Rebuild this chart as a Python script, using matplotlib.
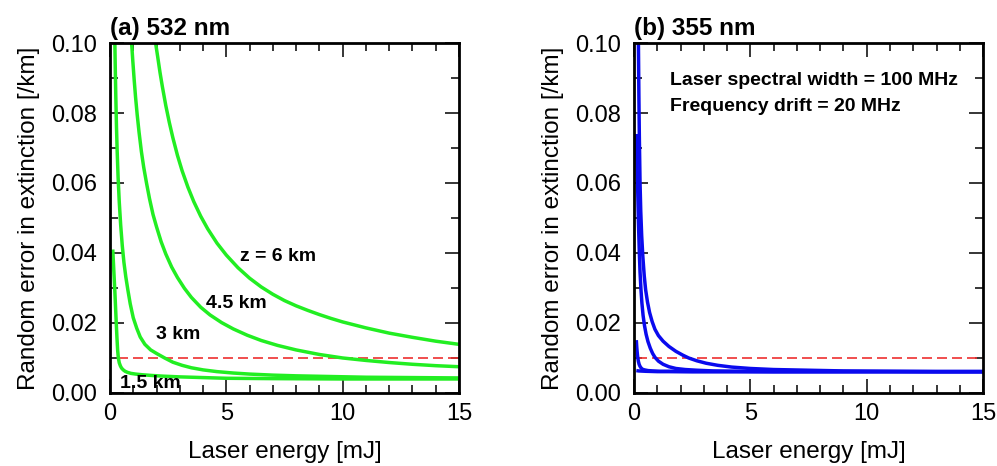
import matplotlib
matplotlib.use("Agg")
import matplotlib.pyplot as plt
from matplotlib.ticker import MultipleLocator

plt.rcParams['font.family'] = ['Liberation Sans', 'DejaVu Sans']

# 532 nm: random extinction error [/km] vs laser energy [mJ] for four altitudes
e_532_15km = [0.12, 0.15, 0.18, 0.21, 0.24, 0.27, 0.3, 0.33, 0.36, 0.4, 0.45, 0.5, 0.57,
              0.65, 0.75, 0.9, 1.1, 1.4, 1.8, 2.3, 3, 4, 5, 7, 10, 15]
err_532_15km = [0.041, 0.037, 0.033, 0.029, 0.0245, 0.020, 0.0158, 0.0122, 0.0100, 0.0086,
                0.0077, 0.0071, 0.0066, 0.0062, 0.0059, 0.0056, 0.0054, 0.0052, 0.0050,
                0.0048, 0.0046, 0.0044, 0.0042, 0.0041, 0.0040, 0.0040]

e_532_3km = [0.21, 0.23, 0.25, 0.28, 0.31, 0.35, 0.4, 0.46, 0.53, 0.6, 0.68, 0.77, 0.87,
             1.0, 1.15, 1.3, 1.5, 1.75, 2.0, 2.35, 2.7, 3.1, 3.5, 4.0, 4.6, 5.3, 6.0, 7.0,
             8.0, 9.5, 11, 13, 15]
err_532_3km = [0.100, 0.092, 0.085, 0.076, 0.069, 0.0615, 0.0545, 0.0480, 0.0420, 0.0373,
               0.0332, 0.0294, 0.0255, 0.0215, 0.0185, 0.0160, 0.0139, 0.0123, 0.0113,
               0.0100, 0.0088, 0.0079, 0.0072, 0.0066, 0.0061, 0.0057, 0.0054, 0.0051,
               0.0049, 0.0047, 0.0045, 0.0044, 0.0043]

e_532_45km = [0.93, 0.98, 1.04, 1.1, 1.17, 1.25, 1.35, 1.45, 1.57, 1.7, 1.85, 2.0, 2.2,
              2.4, 2.65, 2.9, 3.2, 3.5, 3.9, 4.3, 4.8, 5.3, 5.9, 6.5, 7.2, 8.0, 9.0, 10,
              11, 12, 13, 14, 15]
err_532_45km = [0.100, 0.095, 0.0895, 0.0845, 0.0795, 0.0745, 0.069, 0.0645, 0.060, 0.0555,
                0.051, 0.0475, 0.0432, 0.0397, 0.0360, 0.0330, 0.0299, 0.0273, 0.0245,
                0.0223, 0.0201, 0.0183, 0.0165, 0.0150, 0.0136, 0.0123, 0.0110, 0.0100,
                0.0093, 0.0087, 0.0082, 0.0078, 0.0075]

e_532_6km = [1.96, 2.05, 2.15, 2.25, 2.4, 2.55, 2.7, 2.9, 3.1, 3.35, 3.6, 3.9, 4.2, 4.6,
             5.0, 5.5, 6.0, 6.5, 7.0, 7.5, 8.0, 8.5, 9.0, 9.5, 10, 11, 12, 13, 14, 15]
err_532_6km = [0.100, 0.0961, 0.0916, 0.0876, 0.0821, 0.0773, 0.0730, 0.0679, 0.0635,
               0.0588, 0.0547, 0.0505, 0.0469, 0.0428, 0.0394, 0.0358, 0.0328, 0.0303,
               0.0282, 0.0264, 0.0249, 0.0236, 0.0224, 0.0213, 0.0203, 0.0186, 0.0171,
               0.0159, 0.0148, 0.0139]

# 355 nm, same altitudes
e_355_15km = [0.1, 0.2, 0.5, 1, 2, 5, 10, 15]
err_355_15km = [0.0064, 0.0063, 0.0062, 0.0061, 0.0061, 0.0061, 0.0061, 0.0061]

e_355_3km = [0.1, 0.11, 0.12, 0.135, 0.15, 0.17, 0.19, 0.22, 0.26, 0.3, 0.36, 0.45, 0.6,
             0.8, 1.1, 1.5, 2.5, 4, 7, 15]
err_355_3km = [0.0151, 0.0140, 0.0130, 0.0118, 0.0108, 0.0098, 0.0090, 0.0082, 0.0076,
               0.0072, 0.0068, 0.0066, 0.0064, 0.0063, 0.0062, 0.0062, 0.0061, 0.0061,
               0.0061, 0.0061]

e_355_45km = [0.1, 0.11, 0.12, 0.135, 0.15, 0.17, 0.19, 0.21, 0.23, 0.26, 0.3, 0.34, 0.39,
              0.45, 0.52, 0.6, 0.7, 0.8, 0.9, 1.05, 1.25, 1.5, 1.8, 2.2, 2.7, 3.4, 4.5, 6,
              8, 10, 12.5, 15]
err_355_45km = [0.074, 0.071, 0.068, 0.064, 0.0605, 0.055, 0.049, 0.0445, 0.040, 0.0345,
                0.0295, 0.0257, 0.0222, 0.0193, 0.0168, 0.0147, 0.0128, 0.0113, 0.0102,
                0.0091, 0.0082, 0.0075, 0.0070, 0.0067, 0.0065, 0.0063, 0.0062, 0.0061,
                0.0061, 0.0061, 0.0061, 0.0061]

e_355_6km = [0.15, 0.17, 0.19, 0.21, 0.23, 0.26, 0.29, 0.33, 0.38, 0.44, 0.5, 0.58, 0.67,
             0.78, 0.9, 1.05, 1.25, 1.5, 1.8, 2.1, 2.35, 2.7, 3.1, 3.6, 4.2, 5, 6, 7.5, 9,
             11, 13, 15]
err_355_6km = [0.125, 0.112, 0.100, 0.085, 0.073, 0.060, 0.052, 0.045, 0.039, 0.0335,
               0.0295, 0.0260, 0.0230, 0.0204, 0.0182, 0.0164, 0.0148, 0.0133, 0.0119,
               0.0108, 0.0100, 0.0092, 0.0085, 0.0079, 0.0074, 0.0070, 0.0067, 0.0065,
               0.0063, 0.0062, 0.0061, 0.0061]

threshold = 0.01
curve_labels = ["1.5 km", "3 km", "4.5 km", "z = 6 km"]
panel_titles = ["(a) 532 nm", "(b) 355 nm"]
laser_notes = ["Laser spectral width = 100 MHz", "Frequency drift = 20 MHz"]

GREEN = "#22ee22"
BLUE = "#0a0aee"
RED = "#ee3030"


def style_axes(ax, title):
    ax.set_xlim(0, 15)
    ax.set_ylim(0, 0.1)
    ax.xaxis.set_major_locator(MultipleLocator(5))
    ax.xaxis.set_minor_locator(MultipleLocator(1))
    ax.yaxis.set_major_locator(MultipleLocator(0.02))
    ax.yaxis.set_minor_locator(MultipleLocator(0.01))
    ax.yaxis.set_major_formatter(lambda v, pos: f"{v:.2f}")
    ax.tick_params(which='both', direction='in', top=True, right=True,
                   width=1.1, labelsize=17)
    ax.tick_params(which='major', length=10)
    ax.tick_params(which='minor', length=5.5)
    ax.tick_params(axis='x', pad=7)
    ax.tick_params(axis='y', pad=9)
    for s in ax.spines.values():
        s.set_linewidth(2)
    ax.set_xlabel('Laser energy [mJ]', fontsize=17.5, labelpad=12)
    ax.set_ylabel('Random error in extinction [/km]', fontsize=17.5, labelpad=8)
    ax.set_title(title, loc='left', fontsize=17.5, fontweight='bold', pad=6)


fig = plt.figure(figsize=(9.97, 4.66), dpi=100)
ax1 = fig.add_axes([0.1103, 0.1567, 0.3501, 0.751])
ax2 = fig.add_axes([0.6359, 0.1567, 0.3501, 0.751])

# (a) 532 nm
ax1.plot([0.33, 15], [threshold, threshold], color=RED, lw=1.2, dashes=(6, 3))
for e, err in [(e_532_15km, err_532_15km), (e_532_3km, err_532_3km),
               (e_532_45km, err_532_45km), (e_532_6km, err_532_6km)]:
    ax1.plot(e, err, color=GREEN, lw=2.5, solid_capstyle='butt')
lab_kw = dict(fontsize=14, fontweight='bold', ha='center', va='center', zorder=5)
ax1.text(1.72, 0.0028, curve_labels[0], **lab_kw)
ax1.text(2.94, 0.0166, curve_labels[1], **lab_kw)
ax1.text(5.44, 0.0256, curve_labels[2], **lab_kw)
ax1.text(7.22, 0.0389, curve_labels[3], **lab_kw)
style_axes(ax1, panel_titles[0])

# (b) 355 nm
ax2.plot([0.15, 15], [threshold, threshold], color=RED, lw=1.2, dashes=(6, 3))
for e, err in [(e_355_15km, err_355_15km), (e_355_3km, err_355_3km),
               (e_355_45km, err_355_45km), (e_355_6km, err_355_6km)]:
    ax2.plot(e, err, color=BLUE, lw=2.5, solid_capstyle='butt')
ax2.text(1.55, 0.0894, laser_notes[0], fontsize=14, fontweight='bold', va='center')
ax2.text(1.55, 0.0820, laser_notes[1], fontsize=14, fontweight='bold', va='center')
style_axes(ax2, panel_titles[1])

fig.savefig("out.png", dpi=100)
